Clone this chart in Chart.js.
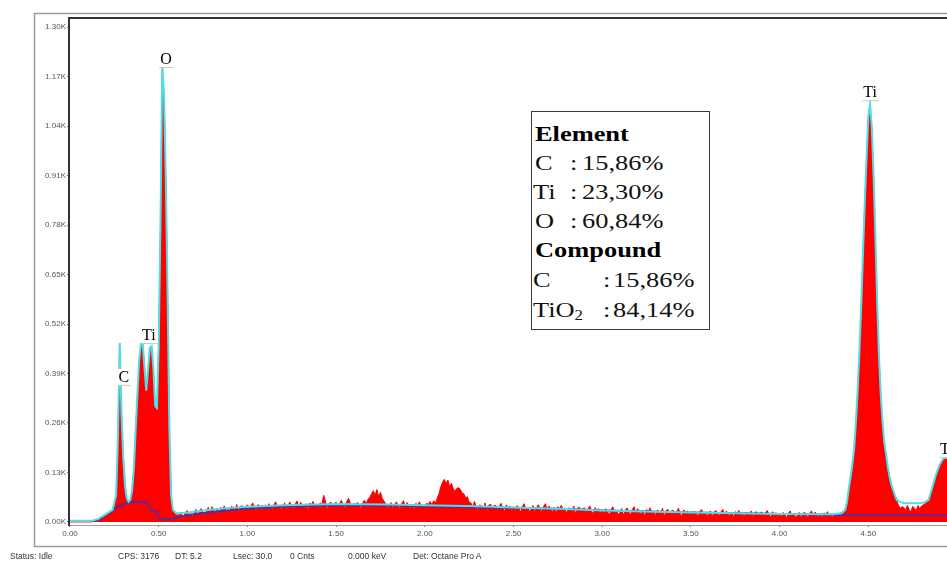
<!DOCTYPE html>
<html>
<head>
<meta charset="utf-8">
<script src="https://cdn.jsdelivr.net/npm/chart.js@4.4.1/dist/chart.umd.min.js"></script>
<style>
  html, body { margin: 0; padding: 0; background: #fff; }
  #wrap { position: relative; width: 947px; height: 562px; overflow: hidden; }
  #spectrum { position: absolute; left: 0; top: 0; }
  #comp { position: absolute; left: 531px; top: 111px; width: 179px; height: 219px;
          border: 1px solid #3a3a3a; background: #fff; box-sizing: border-box; }
  #comp .t { position: absolute; white-space: nowrap; font-family: "Liberation Serif", "Times New Roman", serif;
             font-size: 22px; line-height: 22px; color: #111; transform: scaleX(1.2); transform-origin: 0 0; }
  #comp .h { font-weight: bold; color: #000; }
  #comp sub { font-size: 14px; line-height: 0; vertical-align: -3px; }
  #status span { position: absolute; top: 551px; font-family: "Liberation Sans", Arial, sans-serif;
                 font-size: 8.5px; line-height: 10px; color: #333; white-space: nowrap; }
</style>
</head>
<body>
<div id="wrap">
  <canvas id="spectrum" width="947" height="562"></canvas>
  <div id="comp"></div>
  <div id="status"></div>
</div>
<script>
// EDS spectrum, 10 eV channels starting at 0 keV (counts per channel)
const channelStartKeV = 0.00;
const channelWidthKeV = 0.01;
const spectrumCounts = [
  0,0,0,0,0,0,0,0,0,0,
  0,0,0,1,3,5,8,12,14,16,
  19,23,25,29,31,36,70,205,470,290,
  175,98,62,54,58,82,140,240,330,420,
  465,468,405,342,398,452,460,402,300,292,
  455,770,1190,1120,900,600,245,62,30,24,
  24,15,26,20,12,24,30,16,23,13,
  23,33,15,28,35,24,17,31,38,21,
  40,31,25,36,19,38,33,42,28,32,
  27,41,38,31,46,24,40,43,34,39,
  45,33,42,50,36,29,46,39,43,31,
  45,34,48,41,30,46,53,36,44,32,
  40,50,32,45,52,41,34,48,55,38,
  52,43,37,48,31,50,45,54,40,44,
  36,50,47,70,55,33,49,52,43,48,
  52,40,49,57,43,36,53,62,50,38,
  49,38,52,45,34,50,57,48,60,64,
  74,82,70,85,66,78,62,55,47,38,
  41,51,33,46,53,42,35,49,56,39,
  51,42,36,47,30,49,44,53,39,43,
  41,49,46,54,45,56,50,62,74,92,
  104,112,100,110,92,102,88,80,88,90,
  86,76,74,64,66,52,50,40,54,38,
  31,45,42,35,50,28,44,47,38,43,
  44,32,41,49,35,28,45,38,42,30,
  40,29,43,36,25,41,48,31,39,27,
  33,43,25,38,45,34,27,41,48,31,
  42,33,27,38,21,40,35,44,30,34,
  23,37,34,27,42,20,36,39,30,35,
  37,25,34,42,28,21,38,31,35,23,
  32,21,35,28,17,33,40,23,31,19,
  25,35,17,30,37,26,19,33,40,23,
  35,26,20,31,14,33,28,37,23,27,
  17,31,28,21,36,14,30,33,24,29,
  31,19,28,36,22,15,32,25,29,17,
  27,18,29,23,15,27,33,19,26,16,
  21,29,14,25,30,22,16,27,33,19,
  29,21,17,25,12,27,23,30,19,22,
  14,25,23,17,29,12,24,27,20,24,
  26,16,24,30,19,13,27,21,24,15,
  23,14,25,19,11,23,29,15,22,12,
  17,25,10,21,26,18,12,23,29,15,
  26,18,14,22,9,24,20,27,16,19,
  12,22,19,15,23,24,27,34,50,86,
  115,148,190,258,340,442,565,700,832,950,
  1058,1092,1030,900,742,572,432,330,260,205,
  174,140,116,96,82,68,55,44,36,40,
  38,30,44,33,26,41,36,29,43,34,
  42,45,48,52,60,72,88,104,120,134,
  146,156,163,167,166,162
];

// Fitted spectrum (smooth envelope)
const fitKeV = [
  0.00,0.10,0.13,0.16,0.20,0.24,
  0.26,0.27,0.28,0.29,0.30,0.31,0.32,0.33,0.34,0.35,0.36,0.37,0.38,0.39,0.40,0.41,0.42,
  0.43,0.44,0.45,0.46,0.47,0.48,0.49,0.50,0.51,0.52,0.53,0.54,0.55,0.56,0.57,0.58,
  0.60,0.70,0.80,0.90,1.00,1.20,1.50,1.80,2.00,2.30,2.50,2.80,3.00,3.30,3.60,4.00,4.30,
  4.35,4.37,
  4.38,4.39,4.40,4.41,4.42,4.43,4.44,4.45,4.46,4.47,4.48,4.49,4.50,4.51,4.52,4.53,4.54,
  4.55,4.56,4.57,4.58,4.59,4.60,4.61,4.62,4.63,4.64,4.65,4.66,
  4.68,4.70,4.75,4.80,4.82,4.84,4.86,4.88,4.90,4.92,4.94,4.95
];
const fitCounts = [
  3,3,4,8,20,32,
  70,220,470,290,170,95,62,53,58,82,140,240,335,425,470,466,405,
  345,400,458,462,405,305,300,460,780,1198,1125,905,605,250,70,32,
  22,27,33,37,40,44,47,46,44,41,38,34,30,27,24,21,20,
  23,32,
  52,88,118,150,192,262,345,448,570,705,838,955,1065,1098,1035,905,748,
  578,438,336,264,210,178,144,118,98,84,70,58,
  52,50,49,50,52,58,90,122,148,165,170,168
];

// Continuum (background) model
const bkgKeV = [0.14,0.17,0.20,0.24,0.28,0.32,0.34,0.38,0.42,0.44,0.45,0.46,0.49,0.50,0.55,0.58,0.62,0.70,
                0.80,0.90,1.00,1.20,1.50,1.80,2.00,2.30,2.60,2.80,3.00,3.50,4.00,4.30,4.50,4.70,4.95];
const bkgCounts = [3,7,17,30,42,50,52,53,51,48,40,28,27,9,7,8,14,20,
                   26,31,35,40,44,43,41,38,36,34,30,25,21,19,18,18,17];

// Axis ticks
const xTickKeV = [0.00,0.50,1.00,1.50,2.00,2.50,3.00,3.50,4.00,4.50];
const yTickCounts = [0,130,260,390,520,650,780,910,1040,1170,1300];

// Peak identification labels (energy in keV, label baseline in counts)
const peakLabelText = ['C','Ti','O','Ti','Ti'];
const peakLabelKeV = [0.304,0.445,0.541,4.510,4.942];
const peakLabelCounts = [368,478,1203,1116,179];

// Quantification results
const elementNames = ['C','Ti','O'];
const elementWt = ['15,86%','23,30%','60,84%'];
const compoundNames = ['C','TiO<sub>2</sub>'];
const compoundWt = ['15,86%','84,14%'];

// Acquisition status line
const statusText = ['Status: Idle','CPS: 3176','DT: 5.2','Lsec: 30.0','0 Cnts','0.000 keV','Det: Octane Pro A'];
const statusLeft = [10,118,175,233,290,348,413];

// ---------- composition panel ----------
(function buildPanel() {
  const comp = document.getElementById('comp');
  const add = (html, left, top, cls) => {
    const d = document.createElement('div');
    d.className = 't' + (cls ? ' ' + cls : '');
    d.style.left = left + 'px';
    d.style.top = top + 'px';
    d.innerHTML = html;
    comp.appendChild(d);
  };
  const rowTop = (baseline) => baseline - 18.4 - 112;
  add('Element', 3, rowTop(141), 'h');
  elementNames.forEach((n, i) => {
    const b = 170 + i * 29;
    add(n, n === 'Ti' ? 1 : 3, rowTop(b));
    add(':', 38, rowTop(b));
    add(elementWt[i], 50, rowTop(b));
  });
  add('Compound', 3, rowTop(257), 'h');
  compoundNames.forEach((n, i) => {
    const b = 287 + i * 30;
    add(n, 1, rowTop(b));
    add(':', 71, rowTop(b));
    add(compoundWt[i], 81, rowTop(b));
  });
})();

(function buildStatus() {
  const st = document.getElementById('status');
  statusText.forEach((t, i) => {
    const s = document.createElement('span');
    s.style.left = statusLeft[i] + 'px';
    s.textContent = t;
    st.appendChild(s);
  });
})();

// ---------- chart ----------
const spectrumPoints = spectrumCounts.map((c, i) => ({
  x: +(channelStartKeV + i * channelWidthKeV).toFixed(2), y: c
}));
const fitPoints = fitKeV.map((x, i) => ({ x, y: fitCounts[i] }));
const bkgPoints = bkgKeV.map((x, i) => ({ x, y: bkgCounts[i] }));

const framePlugin = {
  id: 'frame',
  beforeDraw(chart) {
    const ctx = chart.ctx;
    ctx.save();
    ctx.fillStyle = '#fff';
    ctx.fillRect(0, 0, chart.width, chart.height);
    ctx.strokeStyle = '#9a9a9a';
    ctx.lineWidth = 1.5;
    ctx.strokeRect(34.5, 13.5, 1000, 533);
    ctx.restore();
  },
  afterDraw(chart) {
    const { ctx, chartArea } = chart;
    ctx.save();
    ctx.strokeStyle = '#333';
    ctx.lineWidth = 2;
    ctx.beginPath();
    ctx.moveTo(chartArea.left - 1, chartArea.top);
    ctx.lineTo(chartArea.right, chartArea.top);
    ctx.stroke();
    ctx.restore();
  }
};

const peakLabelPlugin = {
  id: 'peakLabels',
  afterDatasetsDraw(chart) {
    const { ctx } = chart;
    const xs = chart.scales.x, ys = chart.scales.y;
    ctx.save();
    ctx.font = '16px "Liberation Serif", "Times New Roman", serif';
    ctx.textAlign = 'center';
    ctx.textBaseline = 'alphabetic';
    peakLabelText.forEach((t, i) => {
      const x = xs.getPixelForValue(peakLabelKeV[i]);
      const y = ys.getPixelForValue(peakLabelCounts[i]);
      const w = ctx.measureText(t).width;
      ctx.fillStyle = '#fff';
      ctx.fillRect(x - w / 2 - 2, y - 13, w + 4, 16);
      ctx.strokeStyle = '#c4d3b8';
      ctx.lineWidth = 1;
      ctx.beginPath();
      ctx.moveTo(x - w / 2 - 1, y + 3.5);
      ctx.lineTo(x + w / 2 + 2, y + 3.5);
      ctx.stroke();
      ctx.fillStyle = '#000';
      ctx.fillText(t, x, y);
    });
    ctx.restore();
  }
};

const tickFont = { family: '"Liberation Sans", Arial, sans-serif', size: 8 };

new Chart(document.getElementById('spectrum'), {
  type: 'line',
  data: {
    datasets: [
      { label: 'Fit', data: fitPoints, borderColor: '#4fdde6', borderWidth: 2,
        pointRadius: 0, fill: false, tension: 0, order: 1 },
      { label: 'Background', data: bkgPoints, borderColor: '#5b2a98', borderWidth: 2,
        pointRadius: 0, fill: false, tension: 0, order: 2 },
      { label: 'Spectrum', data: spectrumPoints, borderColor: '#ff0000', borderWidth: 1,
        backgroundColor: '#ff0000', pointRadius: 0, fill: 'origin', tension: 0, order: 3 }
    ]
  },
  options: {
    responsive: false,
    animation: false,
    devicePixelRatio: 1,
    layout: { padding: { top: 18, left: 0, right: 0, bottom: 0 } },
    plugins: { legend: { display: false }, tooltip: { enabled: false } },
    scales: {
      x: {
        type: 'linear', min: -0.0056, max: 4.9436,
        afterBuildTicks: (s) => { s.ticks = xTickKeV.map(v => ({ value: v })); },
        afterFit: (s) => { s.height = 37; },
        ticks: { callback: (v) => Number(v).toFixed(2), font: tickFont, color: '#555',
                 padding: 2, maxRotation: 0, autoSkip: false },
        grid: { drawOnChartArea: false, tickLength: 2, color: '#777' },
        border: { color: '#a0a0a0', width: 1 }
      },
      y: {
        min: -8, max: 1324,
        afterBuildTicks: (s) => { s.ticks = yTickCounts.map(v => ({ value: v })); },
        afterFit: (s) => { s.width = 69; },
        ticks: { callback: (v) => (v / 1000).toFixed(2) + 'K', font: tickFont, color: '#555',
                 padding: 1, autoSkip: false },
        grid: { drawOnChartArea: false, tickLength: 2, color: '#777' },
        border: { color: '#333', width: 2 }
      }
    }
  },
  plugins: [framePlugin, peakLabelPlugin]
});
</script>
</body>
</html>
